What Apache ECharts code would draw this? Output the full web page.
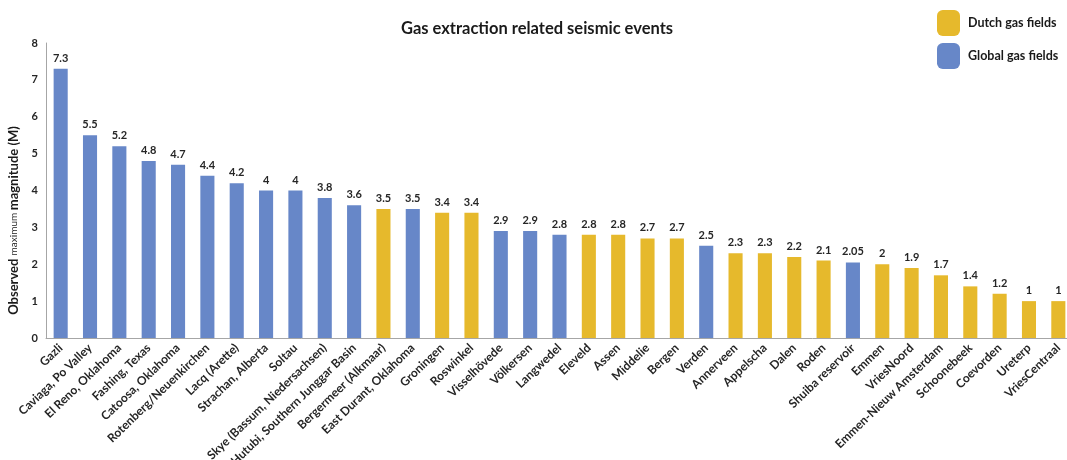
<!DOCTYPE html>
<html>
<head>
<meta charset="utf-8">
<script src="https://cdn.jsdelivr.net/npm/echarts@6/dist/echarts.min.js"></script>
<style>
html,body{margin:0;padding:0;background:#fff;}
#chart{width:1067px;height:460px;}
</style>
</head>
<body>
<div id="chart"></div>
<script>
const categories = ["Gazli","Caviaga, Po Valley","El Reno, Oklahoma","Fashing, Texas","Catoosa, Oklahoma","Rotenberg/Neuenkirchen","Lacq (Arette)","Strachan, Alberta","Soltau","Skye (Bassum, Niedersachsen)","Hutubi, Southern Junggar Basin","Bergermeer (Alkmaar)","East Durant, Oklahoma","Groningen","Roswinkel","Visselhövede","Völkersen","Langwedel","Eleveld","Assen","Middelie","Bergen","Verden","Annerveen","Appelscha","Dalen","Roden","Shuiba reservoir","Emmen","VriesNoord","Emmen-Nieuw Amsterdam","Schoonebeek","Coevorden","Ureterp","VriesCentraal"];
const magnitudes = [7.3,5.5,5.2,4.8,4.7,4.4,4.2,4,4,3.8,3.6,3.5,3.5,3.4,3.4,2.9,2.9,2.8,2.8,2.8,2.7,2.7,2.5,2.3,2.3,2.2,2.1,2.05,2,1.9,1.7,1.4,1.2,1,1];
const groups = ["G","G","G","G","G","G","G","G","G","G","G","D","G","D","D","G","G","G","D","D","D","D","G","D","D","D","D","G","D","D","D","D","D","D","D"];
const yTicks = [0,1,2,3,4,5,6,7,8];

const dutchData = magnitudes.map((v,i)=> groups[i]==="D" ? v : null);
const globalData = magnitudes.map((v,i)=> groups[i]==="G" ? v : null);

const FONT = "Lato";
const chart = echarts.init(document.getElementById('chart'));
const labelCfg = {show:true, position:'top', distance:5, fontFamily:FONT, fontWeight:'bold', fontSize:11, color:'#262626'};
chart.setOption({
  animation:false,
  title:{text:'Gas extraction related seismic events', left:532, textAlign:'center', top:15,
    textStyle:{fontFamily:FONT, fontWeight:'bold', fontSize:16.5, color:'#1a1a1a'}},
  legend:{orient:'vertical', left:937, top:10, padding:0, itemWidth:23, itemHeight:26, itemGap:7,
    textStyle:{fontFamily:FONT, fontWeight:'bold', fontSize:12.5, color:'#1a1a1a', padding:[0,0,0,3]},
    data:['Dutch gas fields','Global gas fields'], selectedMode:false},
  grid:{left:46, top:43, width:1027, bottom:122, containLabel:false, outerBoundsMode:'none'},
  xAxis:{type:'category', data:categories,
    axisLine:{lineStyle:{color:'#a6a6a6', width:1}}, axisTick:{show:false},
    axisLabel:{interval:0, rotate:44, fontFamily:FONT, fontWeight:'bold', fontSize:12, color:'#262626', margin:8}},
  yAxis:{type:'value', min:yTicks[0], max:yTicks[yTicks.length-1], interval:1,
    name:'{a|Observed }{b|maximum }{a|magnitude (M)}', nameLocation:'middle', nameGap:14, nameRotate:90,
    nameTextStyle:{padding:[0,60,0,0], rich:{a:{fontFamily:FONT, fontWeight:'bold', fontSize:13, color:'#1a1a1a'}, b:{fontFamily:FONT, fontSize:10, color:'#1a1a1a'}}},
    axisLine:{show:true, lineStyle:{color:'#a6a6a6'}}, axisTick:{show:false}, splitLine:{show:false},
    axisLabel:{fontFamily:FONT, fontWeight:'bold', fontSize:11, color:'#262626', margin:8}},
  series:[
    {name:'Dutch gas fields', type:'bar', data:dutchData, barWidth:'48%', barGap:'-100%',
      itemStyle:{color:'#E6B92C'}, label:labelCfg},
    {name:'Global gas fields', type:'bar', data:globalData, barWidth:'48%', barGap:'-100%',
      itemStyle:{color:'#6787C8'}, label:labelCfg}
  ]
});
</script>
</body>
</html>
